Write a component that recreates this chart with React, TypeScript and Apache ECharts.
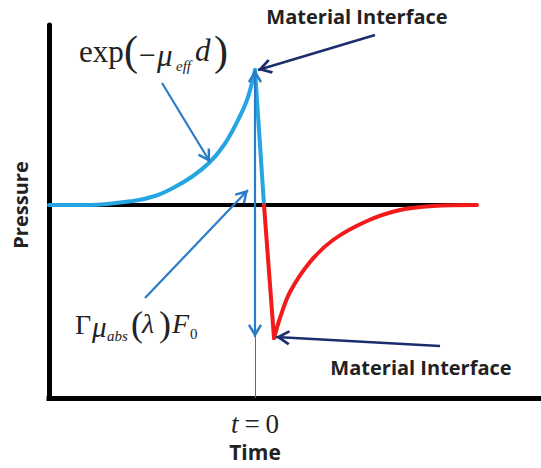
import React, { useEffect, useRef } from "react";
import * as echarts from "echarts";

// Axis extents (arbitrary units; t = 0 at the material interface)
const timeRange = [-206, 286];
const pressureRange = [-193, 180];

// Compressive part: exp(-mu_eff d) rise up to the interface
const risingEdge: number[][] = [
  [-206, 0], [-165, 0], [-122, 4], [-100, 9], [-82, 17], [-62, 29],
  [-45, 43], [-31, 60], [-20, 79], [-8, 105], [0, 135],
];
const fallingEdge: number[][] = [[0, 135], [9, 0]];
// Rarefaction part
const negativeDrop: number[][] = [[9, 0], [19, -133]];
const rarefaction: number[][] = [
  [19, -133], [25, -113], [35, -87], [55, -57], [78, -35],
  [112, -16], [145, -5], [178, -1], [222, 0],
];
const zeroLine: number[][] = [[-206, 0], [215, 0]];
const timeTickValues = [0];

// Annotation arrows (from -> to, in data units)
const expArrow = [[-93, 122], [-45, 43]];
const gammaArrow = [[-110, -93], [-7, 15]];
const topInterfaceArrow = [[120, 170], [3, 135]];
const bottomInterfaceArrow = [[185, -141], [21, -132]];
const amplitudeArrow = [[0, 135], [0, -132]];
const zeroTimeLine = [[0, -132], [0, -193]];

const labelTop = "Material Interface";
const labelBottom = "Material Interface";
const yTitle = "Pressure";
const xTitle = "Time";

const BLUE_CURVE = "#25a6e2";
const BLUE_ARROW = "#2a7cc6";
const NAVY = "#1c2d6e";
const RED = "#f21a1a";
const TEXT = "#222222";

const serif = '"Liberation Serif", "DejaVu Serif", serif';
const sans = '"Open Sans", "Liberation Sans", sans-serif';

const chevron =
  "path://M6,0 M6,10 L12,19 L10.4,20.3 L6,13.8 L1.6,20.3 L0,19 Z";

function arrow(
  pts: number[][],
  color: string,
  width: number,
  size: number[],
  startHead = false,
  endHead = true
) {
  return [
    {
      coord: pts[0],
      symbol: startHead ? chevron : "none",
      symbolSize: size,
      lineStyle: { color, width, type: "solid" },
      itemStyle: { color },
    },
    {
      coord: pts[1],
      symbol: endHead ? chevron : "none",
      symbolSize: size,
      lineStyle: { color, width, type: "solid" },
      itemStyle: { color },
    },
  ];
}

function mathText(
  text: string,
  x: number,
  y: number,
  size: number,
  italic = false
) {
  return {
    type: "text",
    x,
    y,
    silent: true,
    style: {
      text,
      fontSize: size,
      fontFamily: serif,
      fontStyle: italic ? "italic" : "normal",
      fill: TEXT,
      align: "left",
      verticalAlign: "middle",
    },
  };
}

export default function App() {
  const ref = useRef<HTMLDivElement>(null);

  useEffect(() => {
    if (!ref.current) return;
    const chart = echarts.init(ref.current, null, { renderer: "svg" });

    const curve = (data: number[][], color: string, smooth: boolean) => ({
      type: "line",
      data,
      symbol: "none",
      silent: true,
      smooth: smooth ? 0.35 : false,
      lineStyle: { color, width: 4, cap: "round", join: "round" },
      z: 3,
    });

    chart.setOption({
      animation: false,
      backgroundColor: "#ffffff",
      grid: { left: 49, right: 0, top: 25, bottom: 70, containLabel: false },
      xAxis: {
        type: "value",
        min: timeRange[0],
        max: timeRange[1],
        axisLine: {
          show: true,
          onZero: false,
          lineStyle: { color: "#000", width: 5, cap: "square" },
        },
        axisTick: { show: false },
        splitLine: { show: false },
        axisLabel: {
          customValues: timeTickValues,
          margin: 12,
          formatter: () => `{i|t}{e|=}{n|0}\n{b|${xTitle}}`,
          rich: {
            i: { fontFamily: serif, fontStyle: "italic", fontSize: 27, color: TEXT, lineHeight: 28 },
            e: { fontFamily: serif, fontSize: 27, color: TEXT, padding: [0, 6, 0, 6], lineHeight: 28 },
            n: { fontFamily: serif, fontSize: 27, color: TEXT, lineHeight: 28 },
            b: { fontFamily: sans, fontWeight: "bold", fontSize: 21, color: TEXT, lineHeight: 28 },
          },
        },
      },
      yAxis: {
        type: "value",
        min: pressureRange[0],
        max: pressureRange[1],
        axisLine: {
          show: true,
          onZero: false,
          lineStyle: { color: "#000", width: 5 },
        },
        axisTick: { show: false },
        splitLine: { show: false },
        axisLabel: { show: false },
      },
      series: [
        {
          type: "line",
          data: zeroLine,
          symbol: "none",
          silent: true,
          lineStyle: { color: "#000", width: 4 },
          z: 1,
        },
        curve(risingEdge, BLUE_CURVE, true),
        curve(fallingEdge, BLUE_CURVE, false),
        curve(negativeDrop, RED, false),
        curve(rarefaction, RED, true),
        {
          type: "line",
          data: [],
          z: 5,
          silent: true,
          markLine: {
            silent: true,
            animation: false,
            label: { show: false },
            emphasis: { disabled: true },
            lineStyle: { type: "solid" },
            data: [
              arrow(expArrow, BLUE_ARROW, 2.2, [14, 26]),
              arrow(gammaArrow, BLUE_ARROW, 2.2, [14, 26]),
              arrow(amplitudeArrow, BLUE_ARROW, 2.2, [14, 26], true, true),
              arrow(zeroTimeLine, "#3b6fa6", 1, [1, 1], false, false),
              arrow(topInterfaceArrow, NAVY, 2.5, [15, 28]),
              arrow(bottomInterfaceArrow, NAVY, 2.5, [15, 28]),
            ],
          },
        },
      ],
      graphic: [
        // exp(-mu_eff d)
        mathText("exp", 79, 51, 31),
        mathText("(", 124, 51, 42),
        mathText("\u2212", 139, 54, 30),
        mathText("\u03bc", 157, 55, 31, true),
        mathText("eff", 176, 66, 15, true),
        mathText("d", 195, 50, 31, true),
        mathText(")", 214, 51, 42),
        // Gamma mu_abs(lambda) F_0
        mathText("\u0393", 75, 324, 28),
        mathText("\u03bc", 92, 327, 29, true),
        mathText("abs", 107, 336, 15, true),
        mathText("(", 131, 324, 36),
        mathText("\u03bb", 142, 323, 28, true),
        mathText(")", 159, 324, 36),
        mathText("F", 172, 323, 28, true),
        mathText("0", 190, 334, 15),
        {
          type: "text",
          x: 357,
          y: 16,
          silent: true,
          style: {
            text: labelTop,
            fontSize: 20,
            fontFamily: sans,
            fontWeight: "bold",
            fill: TEXT,
            align: "center",
            verticalAlign: "middle",
          },
        },
        {
          type: "text",
          x: 421,
          y: 367,
          silent: true,
          style: {
            text: labelBottom,
            fontSize: 20,
            fontFamily: sans,
            fontWeight: "bold",
            fill: TEXT,
            align: "center",
            verticalAlign: "middle",
          },
        },
        {
          type: "text",
          x: 20,
          y: 205,
          rotation: Math.PI / 2,
          silent: true,
          style: {
            text: yTitle,
            fontSize: 20,
            fontFamily: sans,
            fontWeight: "bold",
            fill: TEXT,
            align: "center",
            verticalAlign: "middle",
          },
        },
      ],
    });

    return () => chart.dispose();
  }, []);

  return (
    <div
      ref={ref}
      style={{ position: "absolute", left: 0, top: 0, width: 541, height: 468 }}
    />
  );
}
